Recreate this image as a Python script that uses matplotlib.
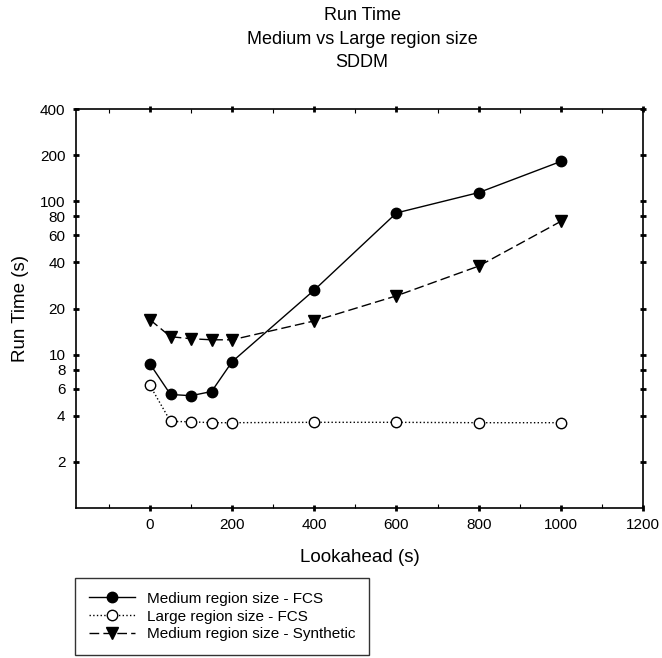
import matplotlib
matplotlib.use("Agg")
import matplotlib.pyplot as plt
from matplotlib.ticker import FixedLocator, NullLocator, NullFormatter

plt.rcParams['font.family'] = ['Liberation Sans', 'DejaVu Sans']

lookahead = [0, 50, 100, 150, 200, 400, 600, 800, 1000]
medium_fcs = [8.7, 5.5, 5.4, 5.75, 9.0, 26.4, 84, 114, 182]
large_fcs = [6.3, 3.67, 3.65, 3.6, 3.6, 3.62, 3.62, 3.6, 3.6]
medium_syn = [16.9, 13.1, 12.7, 12.5, 12.5, 16.6, 24.2, 37.8, 74]

labels = ["Medium region size - FCS", "Large region size - FCS",
          "Medium region size - Synthetic"]
xticks = [0, 200, 400, 600, 800, 1000, 1200]
xminor = [-100, 100, 300, 500, 700, 900, 1100]
yticks = [2, 4, 6, 8, 10, 20, 40, 60, 80, 100, 200, 400]

fig = plt.figure(figsize=(6.62, 6.58), dpi=100)
ax = fig.add_axes([76/662, 1-508/658, (643-76)/662, (508-109)/658])

l1, = ax.plot(lookahead, medium_fcs, '-', color='black', lw=1,
              marker='o', ms=7.5, mfc='black', mec='black')
l2, = ax.plot(lookahead, large_fcs, ':', color='black', lw=1,
              marker='o', ms=7.5, mfc='white', mec='black', mew=1)
l3, = ax.plot(lookahead, medium_syn, '--', color='black', lw=1, dashes=(7, 3),
              marker='v', ms=8, mfc='black', mec='black')

ax.set_yscale('log')
ax.set_xlim(-180, 1200)
ax.set_ylim(1, 400)
ax.xaxis.set_major_locator(FixedLocator(xticks))
ax.xaxis.set_minor_locator(FixedLocator(xminor))
ax.yaxis.set_major_locator(FixedLocator(yticks))
ax.yaxis.set_minor_locator(NullLocator())
ax.yaxis.set_minor_formatter(NullFormatter())
ax.set_yticklabels([str(v) for v in yticks])
ax.set_xticklabels([str(v) for v in xticks])

ax.tick_params(axis='both', which='major', direction='inout', length=5, width=2,
               labelsize=11, top=True, right=True, pad=5)
ax.tick_params(axis='x', which='minor', direction='in', length=3, width=0.8,
               top=True)
for s in ax.spines.values():
    s.set_linewidth(1.2)

ax.set_xlabel("Lookahead (s)", fontsize=13.5, labelpad=12)
ax.set_ylabel("Run Time (s)", fontsize=13.5, labelpad=8)

fig.text(362/662, 1-7/658, "Run Time\nMedium vs Large region size\nSDDM",
         ha='center', va='top', fontsize=13, linespacing=1.5)

leg = fig.legend([l1, l2, l3], labels, loc='upper left',
                 bbox_to_anchor=(75/662, 1-578/658), fontsize=11,
                 frameon=True, fancybox=False, edgecolor='black',
                 handlelength=3.0, borderpad=0.9, labelspacing=0.25,
                 borderaxespad=0)
leg.get_frame().set_linewidth(1)

fig.savefig("out.png", dpi=100)
